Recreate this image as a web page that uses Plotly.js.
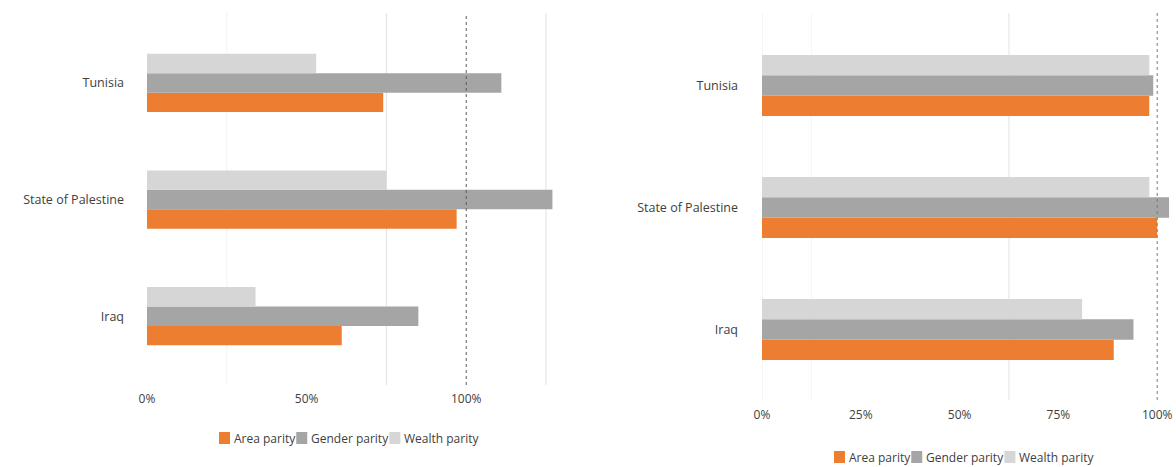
<!DOCTYPE html>
<html>
<head>
<meta charset="utf-8">
<script src="https://cdn.plot.ly/plotly-3.0.1.min.js"></script>
<style>html,body{margin:0;padding:0;background:#fff;}#chart{width:1176px;height:467px;}</style>
</head>
<body>
<div id="chart"></div>
<script>
const countries = ["Iraq", "State of Palestine", "Tunisia"];
const seriesNames = ["Area parity", "Gender parity", "Wealth parity"];
const leftArea = [0.61, 0.97, 0.74];
const leftGender = [0.85, 1.27, 1.11];
const leftWealth = [0.34, 0.75, 0.53];
const rightArea = [0.89, 1.00, 0.98];
const rightGender = [0.94, 1.03, 0.99];
const rightWealth = [0.81, 0.98, 0.98];
const leftTicks = [0, 0.5, 1];
const leftTickText = ["0%", "50%", "100%"];
const rightTicks = [0, 0.25, 0.5, 0.75, 1];
const rightTickText = ["0%", "25%", "50%", "75%", "100%"];

const W = 1176, H = 467;
const colors = ["#ED7D31", "#A5A5A5", "#D6D6D6"];
const FONT = "'Open Sans', sans-serif";
const textColor = "#404040";

function mk(vals, i, xa, ya) {
  return {
    type: "bar", orientation: "h", x: vals, y: countries, name: seriesNames[i],
    marker: {color: colors[i], line: {width: 0}},
    xaxis: xa, yaxis: ya, showlegend: false, hoverinfo: "x+y"
  };
}
const data = [
  mk(leftArea, 0, "x", "y"),
  mk(leftGender, 1, "x", "y"),
  mk(leftWealth, 2, "x", "y"),
  mk(rightArea, 0, "x2", "y2"),
  mk(rightGender, 1, "x2", "y2"),
  mk(rightWealth, 2, "x2", "y2")
];

function vline(xref, yref, x, color, dash, layer) {
  return {type: "line", xref: xref, yref: yref, x0: x, x1: x, y0: 0, y1: 1,
          line: {color: color, width: 1, dash: dash || "solid"}, layer: layer || "below"};
}

const shapes = [
  vline("x", "y domain", 0.25, "#f3f3f3"),
  vline("x", "y domain", 0.75, "#e2e2e2"),
  vline("x", "y domain", 1.25, "#e2e2e2"),
  vline("x", "y domain", 1.0, "#595959", "dot", "above"),
  vline("x2", "y2 domain", 0, "#ececec"),
  vline("x2", "y2 domain", 0.125, "#f5f5f5"),
  vline("x2", "y2 domain", 0.625, "#e2e2e2"),
  vline("x2", "y2 domain", 1.0, "#7a7a7a", "dot", "above")
];
const annotations = [];

// custom compact legend (symbol immediately followed by text)
const LEG_FONT = 12;
const ctx = document.createElement("canvas").getContext("2d");
ctx.font = LEG_FONT + "px 'Open Sans'";
function legend(x0, yc) {
  let x = x0;
  seriesNames.forEach((n, i) => {
    shapes.push({type: "rect", xref: "paper", yref: "paper",
      x0: x / W, x1: (x + 11) / W, y0: 1 - (yc + 6) / H, y1: 1 - (yc - 6) / H,
      fillcolor: colors[i], line: {width: 0}, layer: "above"});
    x += 13;
    annotations.push({xref: "paper", yref: "paper", x: x / W, y: 1 - yc / H,
      xanchor: "left", yanchor: "middle", showarrow: false, text: n,
      font: {size: LEG_FONT, color: textColor, family: FONT}});
    x += ctx.measureText(n).width + 3;
  });
}
legend(219, 438);
legend(834, 457);

const layout = {
  width: W, height: H,
  margin: {l: 0, r: 0, t: 0, b: 0},
  paper_bgcolor: "#fff", plot_bgcolor: "#fff",
  font: {family: FONT, color: textColor, size: 12},
  barmode: "group", bargap: 0.5, bargroupgap: 0,
  showlegend: false,
  xaxis: {
    domain: [147/W, 562/W], range: [0, 1.3], anchor: "y",
    tickvals: leftTicks, ticktext: leftTickText, showgrid: false, zeroline: false,
    showline: false, ticks: "", ticklabelstandoff: 5,
    tickfont: {size: 12, color: textColor}, fixedrange: true
  },
  yaxis: {
    domain: [1 - 385/H, 1 - 13/H], anchor: "x", type: "category",
    categoryorder: "array", categoryarray: countries, range: [-0.59, 2.6],
    showgrid: false, zeroline: false, showline: false, ticks: "",
    ticklabelstandoff: 22, tickfont: {size: 12.5, color: textColor}, fixedrange: true
  },
  xaxis2: {
    domain: [762/W, 1173/W], range: [0, 1.04], anchor: "y2",
    tickvals: rightTicks, ticktext: rightTickText, showgrid: false, zeroline: false,
    showline: false, ticks: "", ticklabelstandoff: 6,
    tickfont: {size: 12, color: textColor}, fixedrange: true
  },
  yaxis2: {
    domain: [1 - 400/H, 1 - 13/H], anchor: "x2", type: "category",
    categoryorder: "array", categoryarray: countries, range: [-0.578, 2.594],
    showgrid: false, zeroline: false, showline: false, ticks: "",
    ticklabelstandoff: 23, tickfont: {size: 12.5, color: textColor}, fixedrange: true
  },
  shapes: shapes,
  annotations: annotations
};

Plotly.newPlot("chart", data, layout, {displayModeBar: false, staticPlot: true});
</script>
</body>
</html>
